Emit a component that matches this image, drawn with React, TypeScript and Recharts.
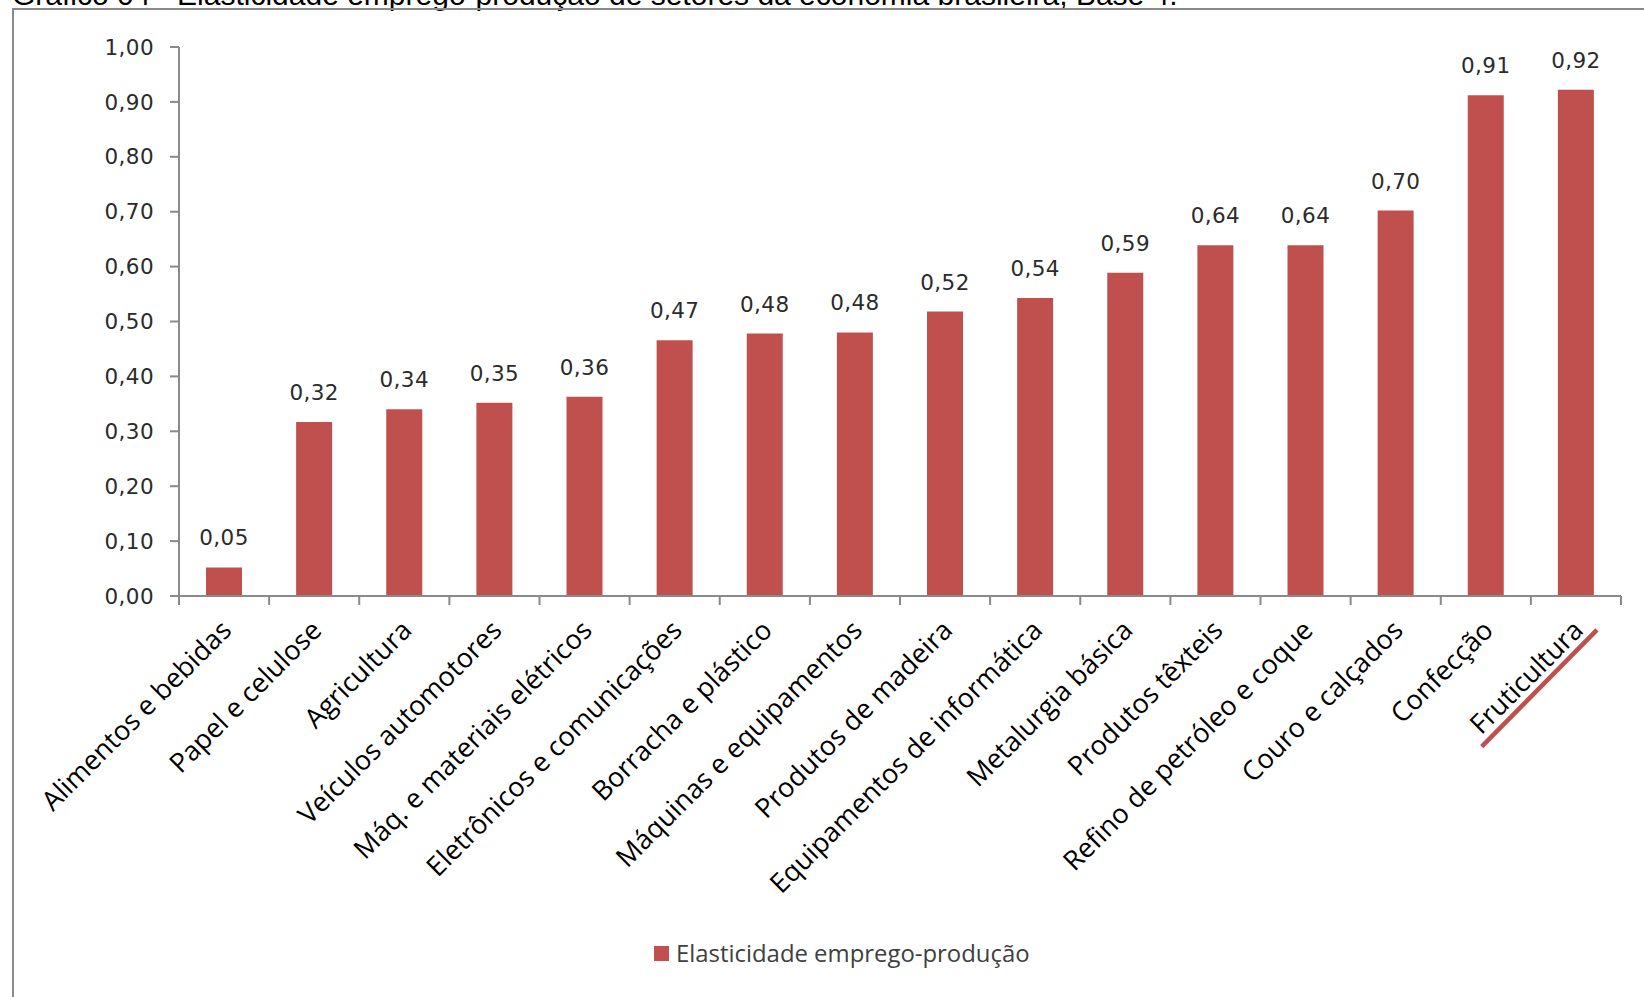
import React from "react";
import { Bar, BarChart, LabelList, Legend, XAxis, YAxis } from "recharts";

const categories = [
  "Alimentos e bebidas",
  "Papel e celulose",
  "Agricultura",
  "Veículos automotores",
  "Máq. e materiais elétricos",
  "Eletrônicos e comunicações",
  "Borracha e plástico",
  "Máquinas e equipamentos",
  "Produtos de madeira",
  "Equipamentos de informática",
  "Metalurgia básica",
  "Produtos têxteis",
  "Refino de petróleo e coque",
  "Couro e calçados",
  "Confecção",
  "Fruticultura",
];

const elasticity = [
  0.052, 0.317, 0.34, 0.352, 0.363, 0.466, 0.478, 0.48, 0.518, 0.543, 0.589,
  0.639, 0.639, 0.702, 0.912, 0.922,
];

const yTicks = [0, 0.1, 0.2, 0.3, 0.4, 0.5, 0.6, 0.7, 0.8, 0.9, 1.0];

const seriesName = "Elasticidade emprego-produção";
const title =
  "Gráfico 04 - Elasticidade emprego-produção de setores da economia brasileira, Base 4.";
const highlighted = "Fruticultura";

const data = categories.map((name, i) => ({ name, value: elasticity[i] }));

const RED = "#c0504d";
const AXIS = "#8a8a8a";
const numFont = { fill: "#2b2b2b", fontFamily: "'DejaVu Sans', sans-serif", fontSize: 21.5, letterSpacing: 0.4 };

const fmt = (v: number) => v.toFixed(2).replace(".", ",");

const CategoryTick = (props: any) => {
  const { x, y, payload, index } = props;
  const half = payload.offset || 45;
  const isLast = index === categories.length - 1;
  return (
    <g>
      <line x1={x - half} y1={y} x2={x - half} y2={y + 9} stroke={AXIS} strokeWidth={2} />
      {isLast && (
        <line x1={x + half} y1={y} x2={x + half} y2={y + 9} stroke={AXIS} strokeWidth={2} />
      )}
      <g transform={`translate(${x + 9},${y + 36}) rotate(-45)`}>
        <text
          textAnchor="end"
          fill="#000"
          fontFamily="'Open Sans', sans-serif"
          fontSize={27}
        >
          {payload.value}
        </text>
        {payload.value === highlighted && (
          <line x1={-154} y1={8} x2={10} y2={7} stroke={RED} strokeWidth={4.5} />
        )}
      </g>
    </g>
  );
};

const LegendContent = (props: any) => {
  const item = props.payload?.[0];
  return (
    <div style={{ display: "flex", alignItems: "center" }}>
      <span
        style={{ width: 15, height: 15, background: item?.color || RED, marginRight: 7 }}
      />
      <span
        style={{
          fontFamily: "'Open Sans', sans-serif",
          fontSize: 23.9,
          color: "#404040",
          lineHeight: "30px",
        }}
      >
        {item?.value}
      </span>
    </div>
  );
};

const App = () => {
  return (
    <div
      style={{
        position: "absolute",
        left: 0,
        top: 0,
        width: 1644,
        height: 997,
        overflow: "hidden",
        background: "#fff",
      }}
    >
      <svg
        width={1644}
        height={997}
        style={{ position: "absolute", left: 0, top: 0 }}
      >
        <text
          x={12}
          y={5}
          fontFamily="'Liberation Sans', Arial, sans-serif"
          fontSize={30}
          fill="#000"
        >
          {title}
        </text>
        <path d="M13,997 V9 H1644" fill="none" stroke={AXIS} strokeWidth={2} />
      </svg>
      <div style={{ position: "absolute", left: 0, top: 0 }}>
        <BarChart
          width={1644}
          height={997}
          data={data}
          margin={{ top: 47, right: 23, left: 119, bottom: 201 }}
        >
          <YAxis
            width={60}
            domain={[0, 1]}
            ticks={yTicks}
            tickFormatter={fmt}
            axisLine={{ stroke: AXIS, strokeWidth: 2 }}
            tickLine={{ stroke: AXIS, strokeWidth: 2 }}
            tickSize={9}
            tickMargin={16}
            tick={numFont}
            interval={0}
          />
          <XAxis
            dataKey="name"
            height={200}
            interval={0}
            tickSize={0}
            tickMargin={0}
            tickLine={false}
            axisLine={{ stroke: AXIS, strokeWidth: 2 }}
            tick={<CategoryTick />}
          />
          <Legend
            verticalAlign="middle"
            align="center"
            layout="horizontal"
            content={<LegendContent />}
            wrapperStyle={{ position: "absolute", left: 654, top: 938, width: 420 }}
          />
          <Bar
            dataKey="value"
            name={seriesName}
            fill={RED}
            barSize={36}
            isAnimationActive={false}
          >
            <LabelList
              dataKey="value"
              position="top"
              offset={22}
              formatter={(v: any) => fmt(Number(v))}
              style={numFont}
            />
          </Bar>
        </BarChart>
      </div>
    </div>
  );
};

export default App;
